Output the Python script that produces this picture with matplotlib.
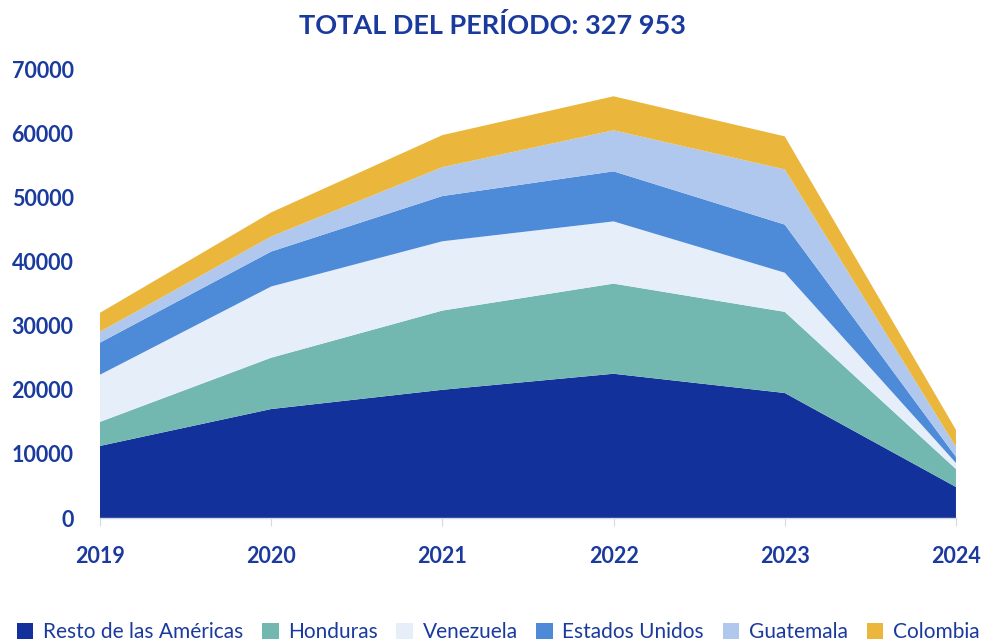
import matplotlib
matplotlib.use("Agg")
import matplotlib.pyplot as plt
from matplotlib.patches import Patch

years = [2019, 2020, 2021, 2022, 2023, 2024]
series_names = ["Resto de las Américas", "Honduras", "Venezuela",
                "Estados Unidos", "Guatemala", "Colombia"]
resto = [11250, 17000, 20000, 22500, 19500, 4850]
honduras = [3750, 8000, 12350, 14050, 12650, 2800]
venezuela = [7350, 11100, 10800, 9700, 6100, 950]
estados_unidos = [5000, 5450, 7050, 7800, 7500, 950]
guatemala = [1700, 2350, 4500, 6400, 8600, 1550]
colombia = [2950, 3750, 5000, 5300, 5150, 2650]
colors = ["#12319A", "#72B8B0", "#E6EEFA", "#4D8AD8", "#B0C8EE", "#EAB73C"]
title = "TOTAL DEL PERÍODO: 327 953"
yticks = [0, 10000, 20000, 30000, 40000, 50000, 60000, 70000]

text_color = "#1A3A9E"
plt.rcParams['font.family'] = ['Lato', 'DejaVu Sans']

fig = plt.figure(figsize=(9.96, 6.42), dpi=100)
ax = fig.add_axes([0.1004, 0.193, 0.8594, 0.6995])
ax.stackplot(years, resto, honduras, venezuela, estados_unidos, guatemala, colombia,
             colors=colors, linewidth=0)
ax.set_xlim(years[0], years[-1])
ax.set_ylim(0, 70000)
ax.set_yticks(yticks)
ax.set_yticklabels([str(v) for v in yticks])
ax.set_xticks(years)
ax.set_xticklabels([str(y) for y in years])
for s in ["left", "right", "top"]:
    ax.spines[s].set_visible(False)
ax.spines["bottom"].set_color("#D5D9E0")
ax.spines["bottom"].set_linewidth(1.0)
ax.tick_params(axis="y", length=0, pad=19, labelsize=15.5, labelcolor=text_color)
ax.tick_params(axis="x", length=6, color="#D5D9E0", pad=14, labelsize=15.5,
               labelcolor=text_color)
for lab in ax.get_yticklabels() + ax.get_xticklabels():
    lab.set_fontweight("bold")

fig.text(0.494, 0.961, title, ha="center", va="center", fontsize=19.5,
         fontweight="bold", color=text_color)

handles = [Patch(facecolor=c, edgecolor="none") for c in colors]
fig.legend(handles, series_names, loc="center", bbox_to_anchor=(0.5, 0.015),
           ncol=6, frameon=False, fontsize=15, labelcolor=text_color,
           handlelength=0.8, handleheight=0.8, handletextpad=0.45, columnspacing=0.9,
           borderaxespad=0)

fig.savefig("out.png", dpi=100, facecolor="white")
